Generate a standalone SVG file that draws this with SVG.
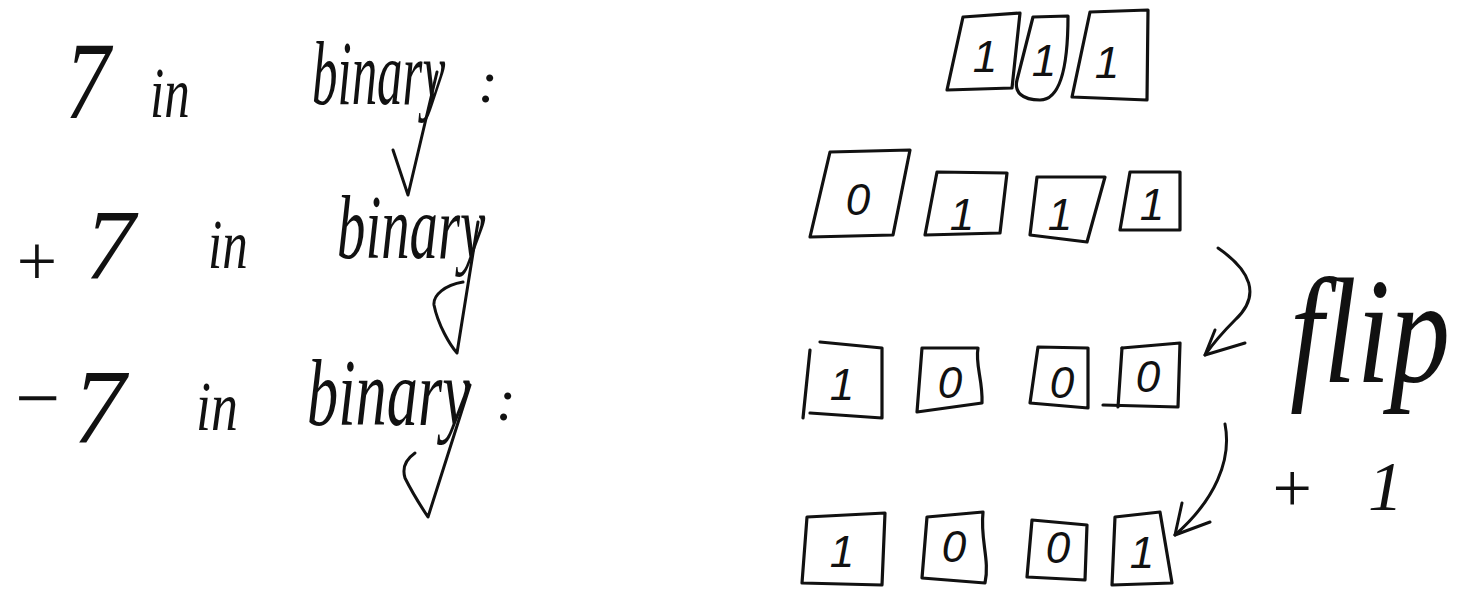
<svg xmlns="http://www.w3.org/2000/svg" width="1469" height="602" viewBox="0 0 1469 602">
<style>
.hw{font-family:"Liberation Serif",serif;font-style:italic;fill:#111;}
.dg{font-family:"Liberation Sans",sans-serif;font-style:italic;font-size:44px;fill:#111;text-anchor:middle;}
.bx{fill:none;stroke:#111;stroke-width:3.2;stroke-linejoin:round;stroke-linecap:round;}
.ln{fill:none;stroke:#111;stroke-width:3;stroke-linejoin:round;stroke-linecap:round;}
</style>
<rect width="1469" height="602" fill="#fff"/>
<g id="label-7">
<text class="hw" transform="translate(65,118) scale(0.82,1)" font-size="110">7</text>
<text class="hw" transform="translate(150,117) scale(0.71,1)" font-size="72">in</text>
<text class="hw" transform="translate(312,104) scale(0.554,1)" font-size="92">binary</text>
<text class="hw" x="478" y="102" font-size="60">:</text>
</g>
<g id="label-plus7">
<text class="hw" x="12" y="285" font-size="72" font-style="normal">+</text>
<text class="hw" x="85" y="278" font-size="100">7</text>
<text class="hw" transform="translate(208,268) scale(0.73,1)" font-size="70">in</text>
<text class="hw" transform="translate(337,258) scale(0.617,1)" font-size="92">binary</text>
</g>
<g id="label-minus7">
<text class="hw" x="10" y="425" font-size="80" font-style="normal">−</text>
<text class="hw" x="73" y="443" font-size="105">7</text>
<text class="hw" transform="translate(196,430) scale(0.77,1)" font-size="70">in</text>
<text class="hw" transform="translate(307,425) scale(0.657,1)" font-size="95">binary</text>
<text class="hw" x="496" y="420" font-size="60">:</text>
</g>
<g id="row-111">
<path class="bx" d="M963,17 L1020,13 L1012,88 L947,90 Z"/>
<text class="dg" x="985" y="72">1</text>
<path class="bx" d="M1033,17 L1068,16 C1068,60 1062,100 1040,100 C1022,100 1014,92 1017,80 Z"/>
<text class="dg" x="1044" y="76">1</text>
<path class="bx" d="M1090,12 L1148,10 L1147,100 L1072,97 Z"/>
<text class="dg" x="1107" y="78">1</text>
</g>
<g id="row-0111">
<path class="bx" d="M830,152 L910,150 L893,235 L810,237 Z"/>
<text class="dg" x="858" y="215" font-size="60">0</text>
<path class="bx" d="M937,172 L1007,173 L1000,233 L925,235 Z"/>
<text class="dg" x="962" y="230">1</text>
<path class="bx" d="M1037,177 L1105,177 L1087,242 L1030,235 Z"/>
<text class="dg" x="1060" y="230">1</text>
<path class="bx" d="M1130,172 L1180,172 L1180,230 L1120,230 Z"/>
<text class="dg" x="1152" y="220">1</text>
</g>
<g id="row-1000">
<path class="bx" d="M820,342 L882,348 L882,418 L810,413 M810,350 L803,418"/>
<text class="dg" x="842" y="400">1</text>
<path class="bx" d="M922,348 L978,348 C975,365 983,380 982,403 L917,412 Z"/>
<text class="dg" x="950" y="398">0</text>
<path class="bx" d="M1038,347 L1088,348 L1088,408 L1030,403 Z"/>
<text class="dg" x="1062" y="398">0</text>
<path class="bx" d="M1122,348 L1180,343 L1178,407 L1103,405"/>
<path class="bx" d="M1122,348 L1118,407"/>
<text class="dg" x="1148" y="392">0</text>
</g>
<g id="row-1001">
<path class="bx" d="M807,517 L885,513 L882,585 L802,583 Z"/>
<text class="dg" x="842" y="567">1</text>
<path class="bx" d="M927,517 L983,512 C980,540 990,560 985,583 L922,578 Z"/>
<text class="dg" x="954" y="562">0</text>
<path class="bx" d="M1032,520 L1087,525 L1085,580 L1027,577 Z"/>
<text class="dg" x="1058" y="563" font-size="36">0</text>
<path class="bx" d="M1115,517 L1160,512 L1172,583 L1112,585 Z"/>
<text class="dg" x="1142" y="568">1</text>
</g>
<g id="label-flip">
<text class="hw" transform="translate(1290,382) scale(0.8,1)" font-size="150">flip</text>
</g>
<g id="label-plus1">
<text class="hw" x="1268" y="512" font-size="70" font-style="normal">+</text>
<text class="hw" x="1368" y="510" font-size="70">1</text>
</g>
<g id="connectors">
<path class="ln" d="M393,150 L408,195 L437,72"/>
<path class="ln" d="M463,282 C445,285 433,295 434,305 C438,325 450,345 457,353 L478,222"/>
<path class="ln" d="M415,453 C405,460 402,468 405,478 C412,492 422,508 428,517 L470,385"/>
<path class="ln" d="M1218,248 C1250,270 1262,295 1235,320 C1222,333 1212,345 1205,355"/>
<path class="ln" d="M1215,330 L1205,355 L1245,343"/>
<path class="ln" d="M1225,424 C1232,460 1215,500 1175,535"/>
<path class="ln" d="M1182,503 L1175,535 L1210,522"/>
</g>
</svg>
